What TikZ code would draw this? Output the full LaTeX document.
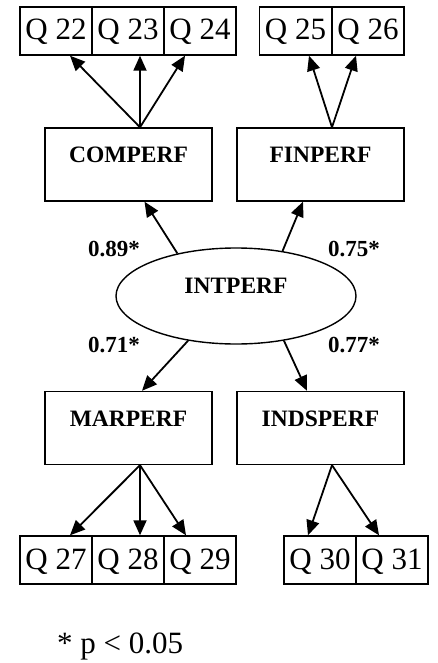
\documentclass[tikz,border=0pt]{standalone}
\usepackage{fontspec}
\setmainfont{Liberation Serif}
\usetikzlibrary{shapes.geometric,arrows.meta}
\begin{document}
\begin{tikzpicture}[x=1pt,y=-1pt,
  qbox/.style={draw,line width=1.4pt,minimum width=72pt,minimum height=48pt,inner sep=0pt,
    font=\fontsize{31}{31}\selectfont,text height=22pt,text depth=4pt},
  varbox/.style={draw,line width=1.4pt,minimum width=167pt,minimum height=73pt,inner sep=0pt,
    font=\fontsize{23.5}{24}\selectfont\bfseries,text height=16pt,text depth=20pt},
  latent/.style={draw,ellipse,line width=1.4pt,minimum width=240pt,minimum height=96pt,inner sep=0pt,
    font=\fontsize{23.5}{24}\selectfont\bfseries,text height=17pt,text depth=23pt},
  coef/.style={font=\fontsize{23}{24}\selectfont\bfseries,inner sep=0pt},
  arr/.style={line width=1.8pt,-{Triangle[length=15pt,width=13pt]}}]
\useasboundingbox (0,0) rectangle (437,663);
% top indicator boxes
\node[qbox] (q22) at (56,31) {Q 22};
\node[qbox] (q23) at (128,31) {Q 23};
\node[qbox] (q24) at (200,31) {Q 24};
\node[qbox] (q25) at (295.5,31) {Q 25};
\node[qbox] (q26) at (368,31) {Q 26};
% first-order factors
\node[varbox] (comp) at (128.5,164.5) {COMPERF};
\node[varbox] (fin) at (320.5,164.5) {FINPERF};
\node[varbox] (mar) at (128.5,428) {MARPERF};
\node[varbox] (ind) at (320.5,428) {INDSPERF};
% second-order factor
\node[latent] (int) at (236,296) {INTPERF};
% bottom indicator boxes
\node[qbox] (q27) at (56,560) {Q 27};
\node[qbox] (q28) at (128,560) {Q 28};
\node[qbox] (q29) at (200,560) {Q 29};
\node[qbox] (q30) at (320,560) {Q 30};
\node[qbox] (q31) at (392,560) {Q 31};
% coefficients
\node[coef] (c89) at (114,249) {0.89*};
\node[coef] (c75) at (354,249) {0.75*};
\node[coef] (c71) at (114,345) {0.71*};
\node[coef] (c77) at (354,345) {0.77*};
% footnote
\node[anchor=base west,inner sep=0pt,font=\fontsize{31}{31}\selectfont] (note) at (57,653) {* p < 0.05};
% connectors top
\draw[arr] ([xshift=11.5pt]comp.north) -- ([xshift=14pt]q22.south);
\draw[arr] ([xshift=11.5pt]comp.north) -- ([xshift=12pt]q23.south);
\draw[arr] ([xshift=11.5pt]comp.north) -- ([xshift=-15pt]q24.south);
\draw[arr] ([xshift=11.5pt]fin.north) -- ([xshift=13.5pt]q25.south);
\draw[arr] ([xshift=11.5pt]fin.north) -- ([xshift=-12pt]q26.south);
% connectors from latent
\draw[arr] (int.144) -- ([xshift=16pt]comp.south);
\draw[arr] (int.44) -- ([xshift=-17.5pt]fin.south);
\draw[arr] (int.223) -- ([xshift=13.5pt]mar.north);
\draw[arr] (int.317) -- ([xshift=-13.5pt]ind.north);
% connectors bottom
\draw[arr] ([xshift=11.5pt]mar.south) -- ([xshift=14pt]q27.north);
\draw[arr] ([xshift=11.5pt]mar.south) -- ([xshift=12pt]q28.north);
\draw[arr] ([xshift=11.5pt]mar.south) -- ([xshift=-14pt]q29.north);
\draw[arr] ([xshift=11.5pt]ind.south) -- ([xshift=-12pt]q30.north);
\draw[arr] ([xshift=11.5pt]ind.south) -- ([xshift=-13pt]q31.north);
\end{tikzpicture}
\end{document}
